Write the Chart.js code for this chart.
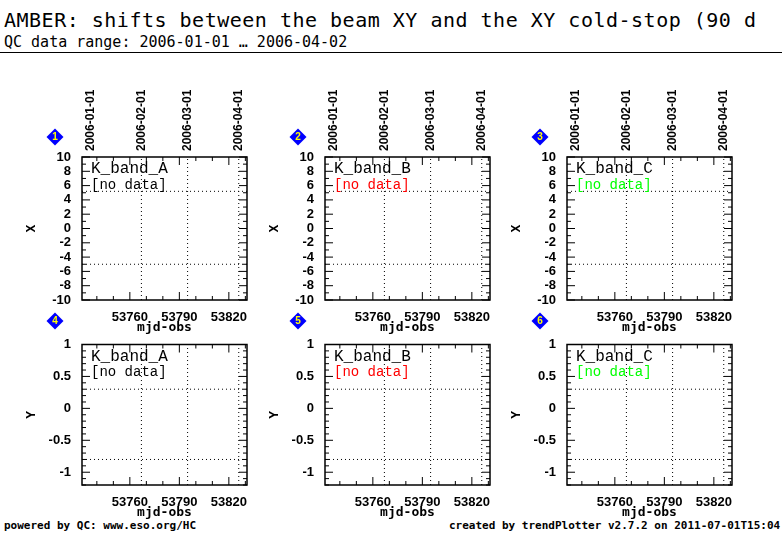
<!DOCTYPE html>
<html><head><meta charset="utf-8">
<script src="https://cdn.jsdelivr.net/npm/chart.js@4"></script>
<style>
body{margin:0;width:782px;height:542px;background:#fff;position:relative;overflow:hidden;font-family:"DejaVu Sans Mono",monospace}
canvas{position:absolute}
.t{position:absolute;white-space:nowrap;color:#000}
.dia{position:absolute;width:12px;height:12px;background:#0000ff;transform:rotate(45deg)}
.num{position:absolute;width:16px;text-align:center;color:#ff0;font:bold 10px "Liberation Sans";}
</style></head><body>
<div class="t" style="left:4px;top:8px;font-size:20px;letter-spacing:0.5px">AMBER: shifts between the beam XY and the XY cold-stop (90 d</div>
<div class="t" style="left:4px;top:33px;font-size:15px">QC data range: 2006-01-01 … 2006-04-02</div>
<div style="position:absolute;left:0;top:52px;width:782px;height:1px;background:#000"></div>
<div class="t" style="left:4px;top:519px;font:bold 11px 'DejaVu Sans Mono'">powered by QC: www.eso.org/HC</div>
<div class="t" style="left:449px;top:519px;font:bold 11px 'DejaVu Sans Mono'">created by trendPlotter v2.7.2 on 2011-07-01T15:04:32</div>
<script>
const panelNames=["K_band_A","K_band_B","K_band_C"];
const noDataColors=["#000000","#ff0000","#00ff00"];
const xTicks=[53760,53790,53820];
const xRange=[53731,53831];
const dateLabels=["2006-01-01","2006-02-01","2006-03-01","2006-04-01"];
const dateMjd=[53736,53767,53795,53826];
const dateGridMjd=[53767,53795,53826];
const yXTicks=[-10,-8,-6,-4,-2,0,2,4,6,8,10];
const yXRange=[-10,10];
const yXRefs=[5.2,-5];
const yYTicks=[-1,-0.5,0,0.5,1];
const yYRange=[-1.2,1];
const yYRefs=[0.3,-0.8];
const plotLefts=[82,325,567];

function mkChart(col,row){
  const top=row===0;
  const yr=top?yXRange:yYRange, yt=top?yXTicks:yYTicks, refs=top?yXRefs:yYRefs;
  const cv=document.createElement('canvas');
  const L=plotLefts[col]-82, T=top?60:335, H=top?275:185;
  cv.style.left=L+'px';cv.style.top=T+'px';cv.width=260;cv.height=H;
  cv.style.width='260px';cv.style.height=H+'px';
  document.body.appendChild(cv);
  const d=document.createElement('div');d.className='dia';d.style.left=(plotLefts[col]-33)+'px';d.style.top=(top?131:315)+'px';document.body.appendChild(d);
  const n=document.createElement('div');n.className='num';n.textContent=(row*3+col+1);n.style.left=(plotLefts[col]-35)+'px';n.style.top=(top?131:315)+'px';document.body.appendChild(n);
  const ds=[];
  refs.forEach(v=>ds.push({data:[{x:xRange[0],y:v},{x:xRange[1],y:v}]}));
  dateGridMjd.forEach(v=>ds.push({data:[{x:v,y:yr[0]},{x:v,y:yr[1]}]}));
  ds.forEach(o=>{o.borderColor='#000';o.borderWidth=1;o.borderDash=[1,3];o.pointRadius=0;o.showLine=true;});
  const plug={id:'deco',afterDraw(c){
    const g=c.ctx,a=c.chartArea,xs=c.scales.x,ys=c.scales.y;
    g.save();g.strokeStyle='#000';g.lineWidth=1.5;g.strokeRect(a.left,a.top,a.right-a.left,a.bottom-a.top);
    g.lineWidth=1;g.beginPath();
    for(let v=53740;v<=xRange[1];v+=10){const px=xs.getPixelForValue(v);const l=xTicks.includes(v)?8:4;
      g.moveTo(px,a.bottom);g.lineTo(px,a.bottom-l);g.moveTo(px,a.top);g.lineTo(px,a.top+l);}
    const step=top?1:0.1;
    for(let i=Math.round(yr[0]/step);i<=Math.round(yr[1]/step);i++){const v=i*step;const py=ys.getPixelForValue(v);
      const major=yt.some(t=>Math.abs(t-v)<1e-6);const l=major?8:4;
      g.moveTo(a.left,py);g.lineTo(a.left+l,py);g.moveTo(a.right,py);g.lineTo(a.right-l,py);}
    g.stroke();
    g.fillStyle='#000';g.font='16px "Liberation Mono"';g.textBaseline='top';
    g.fillText(panelNames[col],a.left+9,a.top+4);
    g.fillStyle=noDataColors[col];g.font='14px "Liberation Mono"';
    g.fillText('[no data]',a.left+9,a.top+21);
    if(top){g.fillStyle='#000';g.font='bold 12px "Liberation Sans"';g.textBaseline='middle';g.textAlign='left';
      dateLabels.forEach((s,i)=>{const px=xs.getPixelForValue(dateMjd[i]);g.save();g.translate(px,a.top-6);g.rotate(-Math.PI/2);g.fillText(s,0,0);g.restore();});}
    g.restore();
  }};
  new Chart(cv,{type:'scatter',data:{datasets:ds},plugins:[plug],options:{
    responsive:false,animation:false,events:[],
    layout:{padding:{left:24,top:top?97:6,right:13,bottom:0}},
    plugins:{legend:{display:false},tooltip:{enabled:false}},
    scales:{
      x:{type:'linear',min:xRange[0],max:xRange[1],grid:{display:false},border:{display:false},
        afterBuildTicks:s=>{s.ticks=xTicks.map(v=>({value:v}));},
        afterFit:s=>{s.height=35;},
        ticks:{padding:2,autoSkip:false,maxRotation:0,color:'#000',font:{family:'Liberation Sans',weight:'bold',size:13},callback:v=>String(v)},
        title:{display:true,text:'mjd-obs',color:'#000',padding:{top:1,bottom:0},font:{family:'DejaVu Sans Mono',weight:'bold',size:13}}},
      y:{type:'linear',min:yr[0],max:yr[1],grid:{display:false},border:{display:false},
        afterBuildTicks:s=>{s.ticks=yt.map(v=>({value:v}));},
        afterFit:s=>{s.width=58;},
        ticks:{padding:3,autoSkip:false,color:'#000',font:{family:'Liberation Sans',weight:'bold',size:13,lineHeight:1},callback:v=>String(v)},
        title:{display:true,text:top?'X':'Y',color:'#000',padding:0,font:{family:'DejaVu Sans Mono',weight:'bold',size:13}}}
    }}});
}
for(let r=0;r<2;r++)for(let c=0;c<3;c++)mkChart(c,r);
</script></body></html>
